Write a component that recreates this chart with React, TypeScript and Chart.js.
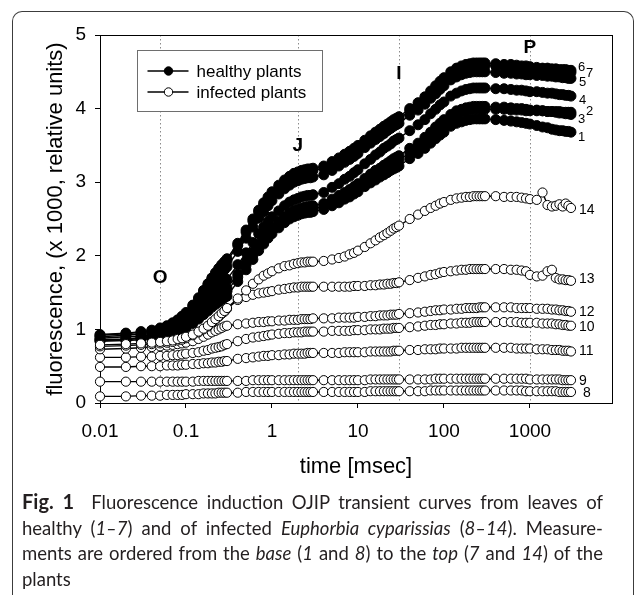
import React, { useEffect, useRef } from 'react';
import { Chart, registerables } from 'chart.js';

Chart.register(...registerables);

// ---- time grid (ms) ----
const TIME_MS = [
  0.01, 0.02, 0.03, 0.04, 0.05, 0.06, 0.07, 0.08, 0.09, 0.1, 0.12, 0.14, 0.16, 0.18, 0.2, 0.22, 0.24, 0.26, 0.28, 0.3,
  0.4, 0.5, 0.6, 0.7, 0.8, 0.9, 1, 1.2, 1.4, 1.6, 1.8, 2, 2.2, 2.4, 2.6, 2.8, 3,
  4, 5, 6, 7, 8, 9, 10, 12, 14, 16, 18, 20, 22, 24, 26, 28, 30,
  40, 50, 60, 70, 80, 90, 100, 120, 140, 160, 180, 200, 220, 240, 260, 280, 300,
  400, 500, 600, 700, 800, 900, 1000, 1200, 1400, 1600, 1800, 2000, 2200, 2400, 2600, 2800, 3000,
];

// ---- healthy plants (1-7), fluorescence x1000 ----
const H1 = [
  0.84, 0.85, 0.86, 0.88, 0.89, 0.91, 0.93, 0.96, 0.99, 1.02, 1.08, 1.14, 1.2, 1.25, 1.3, 1.34, 1.37, 1.4, 1.43, 1.45,
  1.65, 1.81, 1.95, 2.07, 2.16, 2.24, 2.3, 2.38, 2.45, 2.5, 2.53, 2.55, 2.57, 2.58, 2.59, 2.59, 2.6,
  2.63, 2.68, 2.72, 2.77, 2.8, 2.84, 2.87, 2.94, 2.99, 3.03, 3.07, 3.1, 3.13, 3.16, 3.18, 3.2, 3.22,
  3.32, 3.39, 3.46, 3.53, 3.59, 3.64, 3.68, 3.76, 3.8, 3.82, 3.84, 3.85, 3.86, 3.86, 3.86, 3.86, 3.86,
  3.85, 3.84, 3.83, 3.82, 3.81, 3.8, 3.79, 3.77, 3.75, 3.74, 3.72, 3.71, 3.7, 3.7, 3.69, 3.69, 3.68,
];
const H2 = [
  0.85, 0.86, 0.88, 0.89, 0.91, 0.93, 0.95, 0.98, 1.01, 1.04, 1.11, 1.17, 1.24, 1.3, 1.35, 1.4, 1.44, 1.47, 1.49, 1.52,
  1.71, 1.88, 2.01, 2.12, 2.21, 2.28, 2.35, 2.43, 2.49, 2.54, 2.58, 2.59, 2.61, 2.62, 2.63, 2.63, 2.64,
  2.67, 2.73, 2.77, 2.82, 2.86, 2.89, 2.93, 3.0, 3.06, 3.1, 3.14, 3.18, 3.21, 3.23, 3.26, 3.28, 3.3,
  3.4, 3.48, 3.56, 3.63, 3.7, 3.75, 3.8, 3.88, 3.92, 3.95, 3.97, 3.98, 3.99, 3.99, 3.99, 3.99, 3.99,
  3.99, 3.99, 3.98, 3.98, 3.98, 3.97, 3.97, 3.97, 3.97, 3.96, 3.96, 3.96, 3.96, 3.95, 3.95, 3.95, 3.95,
];
const H3 = [
  0.86, 0.87, 0.89, 0.9, 0.92, 0.94, 0.97, 1.0, 1.03, 1.06, 1.13, 1.2, 1.27, 1.33, 1.38, 1.43, 1.47, 1.51, 1.53, 1.56,
  1.75, 1.92, 2.05, 2.16, 2.25, 2.32, 2.39, 2.47, 2.53, 2.58, 2.62, 2.63, 2.65, 2.66, 2.67, 2.67, 2.68,
  2.71, 2.77, 2.82, 2.86, 2.9, 2.94, 2.98, 3.05, 3.11, 3.16, 3.19, 3.23, 3.26, 3.29, 3.32, 3.34, 3.36,
  3.46, 3.53, 3.61, 3.68, 3.75, 3.8, 3.85, 3.92, 3.97, 3.99, 4.01, 4.02, 4.03, 4.03, 4.03, 4.03, 4.03,
  4.02, 4.02, 4.01, 4.0, 4.0, 3.99, 3.98, 3.98, 3.97, 3.96, 3.96, 3.95, 3.94, 3.94, 3.93, 3.93, 3.92,
];
const H4 = [
  0.88, 0.9, 0.91, 0.93, 0.95, 0.97, 1.0, 1.04, 1.07, 1.11, 1.19, 1.27, 1.35, 1.42, 1.48, 1.53, 1.58, 1.62, 1.65, 1.68,
  1.88, 2.04, 2.18, 2.3, 2.39, 2.47, 2.53, 2.61, 2.68, 2.73, 2.76, 2.78, 2.8, 2.81, 2.82, 2.82, 2.83,
  2.86, 2.93, 2.98, 3.04, 3.08, 3.13, 3.17, 3.25, 3.31, 3.37, 3.41, 3.46, 3.49, 3.52, 3.56, 3.58, 3.6,
  3.7, 3.78, 3.85, 3.93, 3.99, 4.05, 4.09, 4.17, 4.21, 4.24, 4.26, 4.27, 4.28, 4.28, 4.28, 4.28, 4.28,
  4.27, 4.27, 4.26, 4.25, 4.25, 4.24, 4.23, 4.23, 4.22, 4.21, 4.21, 4.2, 4.19, 4.19, 4.18, 4.18, 4.17,
];
const H5 = [
  0.9, 0.92, 0.94, 0.96, 0.98, 1.01, 1.05, 1.08, 1.13, 1.18, 1.27, 1.36, 1.45, 1.54, 1.61, 1.68, 1.73, 1.78, 1.81, 1.85,
  2.06, 2.24, 2.39, 2.51, 2.6, 2.68, 2.75, 2.84, 2.91, 2.96, 3.0, 3.02, 3.04, 3.05, 3.06, 3.06, 3.07,
  3.1, 3.16, 3.22, 3.27, 3.31, 3.35, 3.39, 3.47, 3.53, 3.58, 3.62, 3.66, 3.7, 3.73, 3.76, 3.78, 3.8,
  3.91, 3.98, 4.06, 4.14, 4.2, 4.26, 4.31, 4.39, 4.43, 4.46, 4.48, 4.49, 4.5, 4.5, 4.5, 4.5, 4.5,
  4.49, 4.48, 4.48, 4.47, 4.47, 4.46, 4.46, 4.45, 4.45, 4.44, 4.44, 4.43, 4.43, 4.42, 4.42, 4.41, 4.41,
];
const H6 = [
  0.93, 0.95, 0.97, 0.99, 1.02, 1.05, 1.09, 1.13, 1.18, 1.23, 1.33, 1.43, 1.53, 1.62, 1.7, 1.77, 1.83, 1.88, 1.92, 1.96,
  2.17, 2.35, 2.5, 2.62, 2.72, 2.8, 2.87, 2.96, 3.03, 3.08, 3.12, 3.14, 3.16, 3.17, 3.18, 3.18, 3.19,
  3.22, 3.28, 3.33, 3.38, 3.42, 3.46, 3.5, 3.57, 3.63, 3.68, 3.72, 3.76, 3.79, 3.82, 3.85, 3.87, 3.89,
  4.0, 4.08, 4.16, 4.24, 4.31, 4.37, 4.42, 4.5, 4.55, 4.58, 4.6, 4.61, 4.62, 4.62, 4.62, 4.62, 4.62,
  4.61, 4.6, 4.6, 4.59, 4.58, 4.58, 4.57, 4.56, 4.55, 4.55, 4.54, 4.54, 4.53, 4.53, 4.53, 4.52, 4.52,
];
const H7 = [
  0.92, 0.94, 0.96, 0.98, 1.01, 1.04, 1.08, 1.12, 1.17, 1.21, 1.31, 1.41, 1.51, 1.6, 1.68, 1.74, 1.8, 1.85, 1.89, 1.93,
  2.14, 2.32, 2.47, 2.59, 2.69, 2.77, 2.84, 2.93, 3.0, 3.05, 3.09, 3.11, 3.13, 3.14, 3.15, 3.15, 3.16,
  3.19, 3.25, 3.3, 3.35, 3.39, 3.43, 3.47, 3.54, 3.6, 3.65, 3.69, 3.73, 3.76, 3.79, 3.82, 3.84, 3.86,
  3.97, 4.05, 4.13, 4.2, 4.27, 4.33, 4.38, 4.46, 4.51, 4.54, 4.56, 4.57, 4.58, 4.58, 4.58, 4.58, 4.58,
  4.58, 4.57, 4.56, 4.56, 4.55, 4.55, 4.54, 4.53, 4.53, 4.52, 4.52, 4.51, 4.51, 4.5, 4.5, 4.49, 4.49,
];

// ---- infected plants (8-14) ----
const I8 = [
  0.09, 0.09, 0.1, 0.1, 0.1, 0.11, 0.11, 0.11, 0.11, 0.12, 0.12, 0.12, 0.13, 0.13, 0.13, 0.13, 0.14, 0.14, 0.14, 0.14,
  0.14, 0.15, 0.15, 0.15, 0.15, 0.15, 0.15, 0.15, 0.15, 0.15, 0.15, 0.15, 0.15, 0.15, 0.15, 0.15, 0.15,
  0.15, 0.15, 0.15, 0.15, 0.15, 0.15, 0.15, 0.15, 0.16, 0.16, 0.16, 0.16, 0.16, 0.16, 0.16, 0.16, 0.16,
  0.16, 0.16, 0.16, 0.17, 0.17, 0.17, 0.17, 0.17, 0.17, 0.17, 0.17, 0.17, 0.17, 0.17, 0.17, 0.17, 0.17,
  0.17, 0.17, 0.17, 0.17, 0.17, 0.16, 0.16, 0.16, 0.16, 0.16, 0.16, 0.16, 0.15, 0.15, 0.15, 0.15, 0.15,
];
const I9 = [
  0.29, 0.29, 0.29, 0.29, 0.29, 0.29, 0.29, 0.29, 0.29, 0.29, 0.29, 0.3, 0.3, 0.3, 0.3, 0.3, 0.3, 0.3, 0.3, 0.3,
  0.3, 0.3, 0.31, 0.31, 0.31, 0.31, 0.31, 0.31, 0.31, 0.31, 0.31, 0.31, 0.31, 0.31, 0.31, 0.31, 0.31,
  0.31, 0.31, 0.31, 0.31, 0.31, 0.31, 0.31, 0.31, 0.32, 0.32, 0.32, 0.32, 0.32, 0.32, 0.32, 0.32, 0.32,
  0.32, 0.32, 0.32, 0.32, 0.33, 0.33, 0.33, 0.33, 0.33, 0.33, 0.33, 0.33, 0.33, 0.33, 0.33, 0.33, 0.33,
  0.33, 0.33, 0.33, 0.33, 0.33, 0.33, 0.32, 0.32, 0.32, 0.32, 0.32, 0.32, 0.32, 0.31, 0.31, 0.31, 0.31,
];
const I10 = [
  0.62, 0.62, 0.63, 0.63, 0.64, 0.64, 0.65, 0.65, 0.66, 0.67, 0.68, 0.69, 0.71, 0.72, 0.74, 0.75, 0.76, 0.77, 0.79, 0.8,
  0.84, 0.87, 0.89, 0.9, 0.91, 0.92, 0.93, 0.94, 0.95, 0.95, 0.96, 0.96, 0.96, 0.97, 0.97, 0.97, 0.97,
  0.97, 0.98, 0.98, 0.98, 0.98, 0.99, 0.99, 0.99, 1.0, 1.0, 1.0, 1.01, 1.01, 1.01, 1.02, 1.02, 1.02,
  1.03, 1.04, 1.05, 1.06, 1.06, 1.07, 1.07, 1.08, 1.08, 1.09, 1.09, 1.09, 1.1, 1.1, 1.1, 1.1, 1.1,
  1.1, 1.1, 1.1, 1.1, 1.09, 1.09, 1.09, 1.09, 1.08, 1.08, 1.08, 1.07, 1.07, 1.06, 1.06, 1.05, 1.05,
];
const I11 = [
  0.49, 0.49, 0.5, 0.5, 0.5, 0.51, 0.51, 0.51, 0.52, 0.52, 0.53, 0.53, 0.54, 0.54, 0.55, 0.55, 0.56, 0.56, 0.57, 0.57,
  0.6, 0.61, 0.62, 0.63, 0.64, 0.64, 0.65, 0.65, 0.66, 0.66, 0.67, 0.67, 0.67, 0.67, 0.68, 0.68, 0.68,
  0.68, 0.68, 0.68, 0.69, 0.69, 0.69, 0.69, 0.69, 0.7, 0.7, 0.7, 0.7, 0.7, 0.7, 0.71, 0.71, 0.71,
  0.72, 0.72, 0.73, 0.73, 0.73, 0.74, 0.74, 0.74, 0.74, 0.75, 0.75, 0.75, 0.75, 0.75, 0.75, 0.75, 0.75,
  0.75, 0.75, 0.75, 0.74, 0.74, 0.74, 0.74, 0.73, 0.73, 0.73, 0.72, 0.72, 0.72, 0.71, 0.71, 0.71, 0.7,
];
const I12 = [
  0.73, 0.74, 0.75, 0.76, 0.77, 0.78, 0.79, 0.8, 0.81, 0.82, 0.84, 0.87, 0.9, 0.93, 0.96, 0.98, 1.0, 1.02, 1.04, 1.05,
  1.07, 1.08, 1.09, 1.1, 1.1, 1.11, 1.11, 1.12, 1.12, 1.13, 1.13, 1.13, 1.14, 1.14, 1.14, 1.14, 1.15,
  1.15, 1.15, 1.16, 1.16, 1.16, 1.16, 1.17, 1.17, 1.18, 1.18, 1.19, 1.19, 1.19, 1.2, 1.2, 1.2, 1.21,
  1.22, 1.23, 1.24, 1.25, 1.26, 1.26, 1.27, 1.27, 1.28, 1.28, 1.29, 1.29, 1.29, 1.29, 1.3, 1.3, 1.3,
  1.3, 1.3, 1.3, 1.29, 1.29, 1.29, 1.29, 1.28, 1.28, 1.28, 1.27, 1.27, 1.26, 1.26, 1.25, 1.25, 1.24,
];
const I13 = [
  0.77, 0.78, 0.79, 0.8, 0.81, 0.82, 0.83, 0.85, 0.86, 0.88, 0.92, 0.96, 1.0, 1.04, 1.09, 1.13, 1.17, 1.21, 1.24, 1.28,
  1.4, 1.44, 1.47, 1.49, 1.5, 1.51, 1.52, 1.54, 1.55, 1.56, 1.57, 1.57, 1.58, 1.58, 1.58, 1.58, 1.58,
  1.58, 1.58, 1.58, 1.58, 1.58, 1.59, 1.59, 1.59, 1.6, 1.6, 1.61, 1.61, 1.62, 1.62, 1.63, 1.63, 1.64,
  1.67, 1.7, 1.72, 1.74, 1.75, 1.77, 1.78, 1.79, 1.8, 1.81, 1.81, 1.82, 1.82, 1.82, 1.82, 1.82, 1.82,
  1.82, 1.82, 1.81, 1.81, 1.8, 1.79, 1.74, 1.72, 1.73, 1.79, 1.81, 1.7, 1.68, 1.68, 1.67, 1.67, 1.66,
];
const I14 = [
  0.79, 0.8, 0.81, 0.82, 0.83, 0.84, 0.85, 0.87, 0.88, 0.9, 0.93, 0.97, 1.01, 1.05, 1.1, 1.14, 1.18, 1.22, 1.25, 1.29,
  1.42, 1.53, 1.62, 1.68, 1.73, 1.76, 1.79, 1.83, 1.86, 1.87, 1.89, 1.9, 1.91, 1.91, 1.92, 1.92, 1.92,
  1.93, 1.95, 1.97, 1.99, 2.02, 2.04, 2.07, 2.12, 2.17, 2.21, 2.25, 2.28, 2.31, 2.34, 2.37, 2.39, 2.41,
  2.5, 2.56, 2.61, 2.65, 2.68, 2.71, 2.73, 2.76, 2.78, 2.79, 2.8, 2.8, 2.81, 2.81, 2.81, 2.81, 2.81,
  2.81, 2.8, 2.8, 2.8, 2.79, 2.78, 2.77, 2.76, 2.86, 2.69, 2.67, 2.68, 2.7, 2.67, 2.71, 2.68, 2.65,
];

// ---- axis ticks & annotations ----
const X_TICKS = [0.01, 0.1, 1, 10, 100, 1000];
const X_TICK_LABELS = ['0.01', '0.1', '1', '10', '100', '1000'];
const PHASE_NAMES = ['O', 'J', 'I', 'P'];
const PHASE_TIMES = [0.05, 2, 30, 1000];
const LEGEND_LABELS = ['healthy plants', 'infected plants'];

// series table (infected first so they draw on top)
const SERIES = [
  { id: '14', values: I14, healthy: false, dx: 8, dy: 2 },
  { id: '13', values: I13, healthy: false, dx: 8, dy: -2 },
  { id: '12', values: I12, healthy: false, dx: 8, dy: 0 },
  { id: '10', values: I10, healthy: false, dx: 8, dy: 1 },
  { id: '11', values: I11, healthy: false, dx: 8, dy: 0 },
  { id: '9', values: I9, healthy: false, dx: 8, dy: 1 },
  { id: '8', values: I8, healthy: false, dx: 12, dy: 1 },
  { id: '7', values: H7, healthy: true, dx: 15, dy: 1 },
  { id: '6', values: H6, healthy: true, dx: 7, dy: -3 },
  { id: '5', values: H5, healthy: true, dx: 8, dy: 4 },
  { id: '4', values: H4, healthy: true, dx: 8, dy: 4 },
  { id: '3', values: H3, healthy: true, dx: 7, dy: 5 },
  { id: '2', values: H2, healthy: true, dx: 15, dy: -1 },
  { id: '1', values: H1, healthy: true, dx: 7, dy: 5 },
];

const FONT = '"Liberation Sans", Arial, Helvetica, sans-serif';
const PHASE_LABEL_Y = [1.7, 3.5, 4.48, 4.82];

const overlay = {
  id: 'overlay',
  beforeDatasetsDraw(chart: any) {
    const { ctx, chartArea: ca, scales } = chart;
    const xs = scales.x;
    ctx.save();
    ctx.strokeStyle = '#8a8a8a';
    ctx.lineWidth = 1;
    ctx.setLineDash([1.5, 2.5]);
    PHASE_TIMES.forEach((t) => {
      const x = Math.round(xs.getPixelForValue(t)) + 0.5;
      ctx.beginPath();
      ctx.moveTo(x, ca.top);
      ctx.lineTo(x, ca.bottom);
      ctx.stroke();
    });
    ctx.setLineDash([]);
    ctx.strokeStyle = '#000';
    ctx.lineWidth = 1;
    ctx.strokeRect(Math.round(ca.left) + 0.5, Math.round(ca.top) + 0.5, Math.round(ca.right - ca.left), Math.round(ca.bottom - ca.top));
    ctx.restore();
  },
  afterDatasetsDraw(chart: any) {
    const { ctx, chartArea: ca, scales } = chart;
    const xs = scales.x;
    const ys = scales.y;
    ctx.save();
    ctx.fillStyle = '#000';
    ctx.font = `bold 19px ${FONT}`;
    ctx.textAlign = 'center';
    ctx.textBaseline = 'middle';
    PHASE_NAMES.forEach((n, i) => {
      ctx.fillText(n, xs.getPixelForValue(PHASE_TIMES[i]), ys.getPixelForValue(PHASE_LABEL_Y[i]));
    });
    ctx.textAlign = 'left';
    SERIES.forEach((s) => {
      const last = s.values.length - 1;
      ctx.font = `${s.healthy ? 13 : 14}px ${FONT}`;
      ctx.fillText(s.id, xs.getPixelForValue(TIME_MS[last]) + s.dx, ys.getPixelForValue(s.values[last]) + s.dy);
    });
    const bx = Math.round(ca.left) + 37.5;
    const by = Math.round(ca.top) + 15.5;
    const bw = 185;
    const bh = 61;
    ctx.fillStyle = '#fff';
    ctx.fillRect(bx, by, bw, bh);
    ctx.strokeStyle = '#6e6e6e';
    ctx.lineWidth = 1;
    ctx.strokeRect(bx, by, bw, bh);
    LEGEND_LABELS.forEach((lab, i) => {
      const y = by + 20.5 + i * 21;
      ctx.strokeStyle = '#000';
      ctx.lineWidth = 1.5;
      ctx.beginPath();
      ctx.moveTo(bx + 10, y);
      ctx.lineTo(bx + 51, y);
      ctx.stroke();
      ctx.beginPath();
      ctx.arc(bx + 31, y, 4.2, 0, Math.PI * 2);
      ctx.fillStyle = i === 0 ? '#000' : '#fff';
      ctx.fill();
      ctx.lineWidth = 1;
      ctx.stroke();
      ctx.fillStyle = '#000';
      ctx.font = `17px ${FONT}`;
      ctx.textAlign = 'left';
      ctx.textBaseline = 'middle';
      ctx.fillText(lab, bx + 59, y + 1);
    });
    ctx.restore();
  },
};

export default function App() {
  const ref = useRef<HTMLCanvasElement>(null);

  useEffect(() => {
    const canvas = ref.current;
    if (!canvas) return;
    const datasets = SERIES.map((s) => ({
      label: s.id,
      data: TIME_MS.map((t, i) => ({ x: t, y: s.values[i] })),
      showLine: true,
      borderColor: '#000',
      borderWidth: 1.4,
      pointStyle: 'circle',
      pointRadius: s.healthy ? 5 : 4.6,
      pointBackgroundColor: s.healthy ? '#000' : '#fff',
      pointBorderColor: '#000',
      pointBorderWidth: 1,
      clip: false as any,
    }));
    const chart = new Chart(canvas, {
      type: 'scatter',
      data: { datasets },
      plugins: [overlay],
      options: {
        responsive: false,
        animation: false,
        devicePixelRatio: 1,
        events: [],
        layout: { padding: { top: 35, right: 23, left: 0, bottom: 0 } },
        plugins: { legend: { display: false }, tooltip: { enabled: false } },
        scales: {
          x: {
            type: 'logarithmic',
            position: 'bottom',
            min: 0.01,
            max: 9000,
            afterBuildTicks: (scale: any) => {
              scale.ticks = X_TICKS.map((v) => ({ value: v }));
            },
            afterFit: (scale: any) => {
              scale.height = 87;
            },
            ticks: {
              autoSkip: false,
              maxRotation: 0,
              color: '#000',
              padding: 12,
              font: { family: FONT, size: 19 },
              callback: (v: any) => {
                const k = X_TICKS.indexOf(Number(v));
                return k >= 0 ? X_TICK_LABELS[k] : '';
              },
            },
            grid: { display: true, drawOnChartArea: false, drawTicks: true, tickLength: 5, color: '#000' },
            border: { display: true, color: '#000', width: 1 },
            title: {
              display: true,
              text: 'time [msec]',
              color: '#000',
              font: { family: FONT, size: 22 },
              padding: { top: 0, bottom: 10 },
            },
          },
          y: {
            type: 'linear',
            min: 0,
            max: 5,
            afterFit: (scale: any) => {
              scale.width = 100;
            },
            ticks: {
              stepSize: 1,
              color: '#000',
              padding: 9,
              font: { family: FONT, size: 19 },
            },
            grid: { display: true, drawOnChartArea: false, drawTicks: true, tickLength: 5, color: '#000' },
            border: { display: true, color: '#000', width: 1 },
            title: {
              display: true,
              text: 'fluorescence, (x 1000, relative units)',
              color: '#000',
              font: { family: FONT, size: 22 },
              padding: { top: 43, bottom: 0 },
            },
          },
        },
      } as any,
    });
    return () => chart.destroy();
  }, []);

  const lineStyle: React.CSSProperties = {
    whiteSpace: 'nowrap',
    textAlign: 'justify',
    textAlignLast: 'justify' as any,
  };

  return (
    <div style={{ position: 'fixed', left: 0, top: 0, width: 635, height: 595, overflow: 'hidden', background: '#fff' }}>
      <div
        style={{
          position: 'absolute',
          left: 12,
          top: 11,
          width: 620,
          height: 800,
          borderTop: '1px solid #3c3c3c',
          borderLeft: '1px solid #3c3c3c',
          borderRight: '1px solid #3c3c3c',
          borderTopLeftRadius: 10,
          borderTopRightRadius: 10,
        }}
      />
      <canvas
        ref={ref}
        width={635}
        height={490}
        style={{ position: 'absolute', left: 0, top: 0, width: 635, height: 490 }}
      />
      <div
        style={{
          position: 'absolute',
          left: 22,
          top: 489,
          width: 581,
          fontFamily: 'Lato, "Open Sans", sans-serif',
          fontSize: 18.5,
          lineHeight: '25.5px',
          color: '#231f20',
        }}
      >
        <div style={lineStyle}>
          <b style={{ fontWeight: 700, fontSize: 20 }}>Fig. 1</b>&nbsp;&nbsp;Fluorescence induction OJIP transient curves from leaves of
        </div>
        <div style={lineStyle}>
          healthy (<i>1–7</i>) and of infected <i>Euphorbia cyparissias</i> (<i>8–14</i>). Measure-
        </div>
        <div style={lineStyle}>
          ments are ordered from the <i>base</i> (<i>1</i> and <i>8</i>) to the <i>top</i> (<i>7</i> and <i>14</i>) of the
        </div>
        <div style={{ whiteSpace: 'nowrap' }}>plants</div>
      </div>
    </div>
  );
}
